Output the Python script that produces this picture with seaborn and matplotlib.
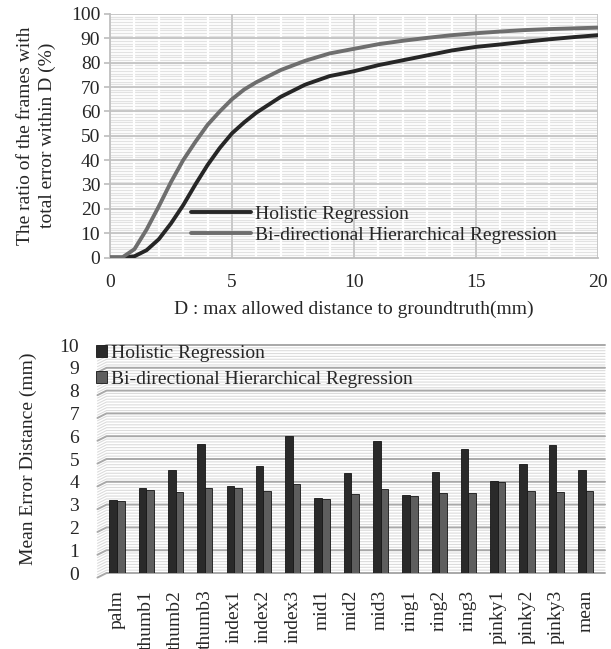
import numpy as np
import pandas as pd
import matplotlib
matplotlib.use("Agg")
import matplotlib.pyplot as plt
import matplotlib.transforms as mtransforms
import seaborn as sns

# top chart: cumulative ratio of frames within distance D
dist_mm = [0, 0.5, 1, 1.5, 2, 2.5, 3, 3.5, 4, 4.5, 5, 5.5, 6, 7, 8, 9, 10,
           11, 12, 13, 14, 15, 16, 17, 18, 19, 20]
ratio_holistic = [0, 0, 0.5, 3, 7.5, 14, 21.5, 30, 38, 45, 51, 55.5, 59.5, 66,
                  71, 74.5, 76.5, 79, 81, 83, 85, 86.5, 87.5, 88.6, 89.6, 90.5, 91.3]
ratio_bidir = [0, 0, 3.4, 11.5, 21, 31, 40, 47.5, 54.5, 60, 65, 69, 72, 77,
               80.8, 83.8, 85.7, 87.6, 89, 90.2, 91.3, 92.1, 92.8, 93.4, 93.8, 94.1, 94.4]

# bottom chart: mean error per joint
joints = ["palm", "thumb1", "thumb2", "thumb3", "index1", "index2", "index3",
          "mid1", "mid2", "mid3", "ring1", "ring2", "ring3",
          "pinky1", "pinky2", "pinky3", "mean"]
err_holistic = [3.21, 3.71, 4.52, 5.67, 3.81, 4.71, 6.00, 3.28, 4.38, 5.77,
                3.44, 4.42, 5.42, 4.03, 4.77, 5.61, 4.53]
err_bidir = [3.17, 3.66, 3.55, 3.72, 3.74, 3.59, 3.90, 3.24, 3.47, 3.69,
             3.39, 3.52, 3.50, 3.97, 3.59, 3.56, 3.58]

series = ["Holistic Regression", "Bi-directional Hierarchical Regression"]
line_colors = ["#262626", "#6e6e6e"]
bar_colors = ["#2a2a2a", "#5e5e5e"]

sns.set_theme(style="white")
plt.rcParams["font.family"] = ["Liberation Serif", "DejaVu Serif"]
plt.rcParams["font.size"] = 14

fig = plt.figure(figsize=(6.11, 6.49), dpi=100)
W, H = 611, 649

#---- top line chart
ax1 = fig.add_axes([110 / W, 1 - 257.5 / H, 488 / W, 243.5 / H])
ax1.set_xlim(0, 20)
ax1.set_ylim(0, 100)

# excel-like pattern fill: fine stripes, white verticals, gray major grid
for y in np.arange(0, 100, 10 / 9):
    ax1.axhline(y, color="#e2e2e2", lw=0.9, zorder=0.1)
for x in np.arange(1, 20, 1):
    ax1.axvline(x, color="white", lw=1.6, zorder=0.2)
for y in np.arange(10, 101, 10):
    ax1.axhline(y, color="#c4c4c4", lw=1.3, zorder=0.3)
for x in np.arange(5, 21, 5):
    ax1.axvline(x, color="#c4c4c4", lw=1.3, zorder=0.3)

line_df = pd.DataFrame({
    "D": dist_mm * 2,
    "ratio": ratio_holistic + ratio_bidir,
    "series": [series[0]] * len(dist_mm) + [series[1]] * len(dist_mm),
})
sns.lineplot(data=line_df, x="D", y="ratio", hue="series", palette=line_colors,
             lw=2.8, ax=ax1, zorder=3)

for s in ["top", "right"]:
    ax1.spines[s].set_visible(False)
for s in ["left", "bottom"]:
    ax1.spines[s].set_color("#bfbfbf")
    ax1.spines[s].set_linewidth(1.3)
ax1.set_xticks([0, 5, 10, 15, 20])
ax1.set_yticks(np.arange(0, 101, 10))
ax1.tick_params(axis="y", left=True, length=4, color="#bfbfbf", pad=3, labelsize=14)
ax1.tick_params(axis="x", bottom=False, pad=6, labelsize=14)
ax1.set_xlabel("D : max allowed distance to groundtruth(mm)", fontsize=14, labelpad=7)
ax1.set_ylabel("The ratio of the frames with\ntotal error within D (%)",
               fontsize=14, linespacing=1.35, labelpad=11)
ax1.legend(loc="center left", bbox_to_anchor=(0.165, 0.135), frameon=False,
           handlelength=3.1, handletextpad=0.2, labelspacing=0.15,
           borderpad=0, borderaxespad=0, fontsize=14)
for lh in ax1.get_legend().get_lines():
    lh.set_linewidth(2.8)

#---- bottom bar chart
ax2 = fig.add_axes([100 / W, 1 - 573 / H, 505 / W, 228 / H])
bar_df = pd.DataFrame({"joint": joints, series[0]: err_holistic, series[1]: err_bidir})
bar_df = bar_df.melt(id_vars="joint", var_name="series", value_name="err")
sns.barplot(data=bar_df, x="joint", y="err", hue="series", palette=bar_colors,
            width=0.52, gap=0, edgecolor="#151515", linewidth=0.6,
            saturation=1, ax=ax2, zorder=3)
ax2.set_xlim(-0.58, 16.66)
ax2.set_ylim(0, 10)

# striped back wall with a slanted 3-D left edge
trans = mtransforms.blended_transform_factory(ax2.transAxes, ax2.transData)
for y in np.arange(0, 10.01, 0.125):
    major = abs(y - round(y)) < 1e-6
    c, w = ("#a8a8a8", 1.4) if major else ("#dcdcdc", 0.8)
    ax2.plot([-0.005, 0.013, 1.0], [y - 0.2, y, y], color=c, lw=w,
             transform=trans, zorder=0.5 if major else 0.2, clip_on=False)

for s in ax2.spines.values():
    s.set_visible(False)
ax2.set_yticks(np.arange(0, 11, 1))
ax2.tick_params(axis="y", left=False, pad=9, labelsize=14)
ax2.tick_params(axis="x", bottom=False, pad=6, labelsize=14, labelrotation=90)
ax2.set_xlabel("")
ax2.set_ylabel("Mean Error Distance (mm)", fontsize=14, labelpad=16)
ax2.legend(loc="upper left", bbox_to_anchor=(-0.008, 1.0), frameon=False,
           handlelength=0.55, handleheight=0.55, handletextpad=0.2,
           labelspacing=0.45, borderpad=0, borderaxespad=0, fontsize=14)

fig.savefig("out.png", dpi=100)
